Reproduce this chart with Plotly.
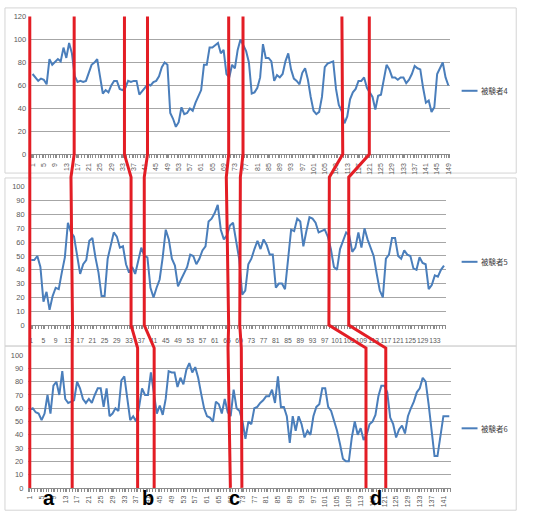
import plotly.graph_objects as go

W, H = 549, 526

# ---------------- data ----------------
subj4 = [70, 67, 64, 66, 65, 61, 83, 78, 81, 83,
         81, 93, 84, 97, 88, 68, 63, 64, 63, 64,
         71, 78, 80, 83, 68, 53, 56, 54, 60, 64,
         64, 57, 56, 58, 64, 63, 64, 64, 52, 55,
         58, 61, 60, 63, 64, 68, 76, 80, 78, 36,
         31, 24, 28, 41, 35, 36, 40, 38, 45, 51,
         56, 78, 78, 93, 93, 95, 97, 88, 91, 70,
         67, 78, 75, 91, 100, 95, 90, 80, 53, 54,
         58, 67, 96, 84, 84, 81, 64, 69, 67, 70,
         81, 88, 74, 66, 64, 61, 71, 75, 65, 50,
         38, 35, 37, 50, 76, 79, 80, 81, 57, 43,
         38, 27, 33, 48, 54, 57, 64, 64, 67, 58,
         54, 50, 39, 51, 52, 64, 78, 74, 67, 67,
         65, 67, 67, 62, 65, 70, 77, 75, 74, 58,
         45, 47, 37, 41, 70, 75, 80, 67, 60]

subj5 = [47, 47, 50, 42, 17, 24, 11, 21, 27, 26,
         38, 49, 74, 67, 64, 50, 37, 44, 47, 61,
         63, 49, 38, 21, 21, 48, 57, 67, 64, 56,
         57, 44, 38, 42, 37, 47, 56, 50, 49, 27,
         20, 27, 33, 49, 69, 62, 48, 43, 28, 33,
         38, 42, 51, 50, 44, 48, 54, 57, 75, 77,
         81, 87, 69, 62, 65, 72, 74, 62, 48, 22,
         25, 44, 48, 55, 61, 55, 62, 58, 51, 51,
         27, 30, 30, 26, 49, 69, 68, 77, 75, 57,
         68, 78, 77, 74, 67, 68, 69, 64, 55, 42,
         40, 55, 61, 67, 65, 53, 56, 67, 56, 70,
         62, 56, 50, 37, 25, 20, 48, 51, 63, 63,
         50, 48, 54, 51, 50, 41, 40, 49, 45, 44,
         26, 29, 36, 35, 40, 43]

subj6 = [59, 60, 57, 56, 51, 56, 70, 56, 77, 80,
         70, 88, 67, 64, 65, 66, 80, 75, 67, 64,
         67, 64, 70, 75, 75, 61, 75, 54, 56, 60,
         58, 81, 84, 69, 51, 54, 50, 61, 75, 70,
         70, 87, 72, 56, 62, 55, 67, 88, 87, 87,
         76, 83, 78, 89, 94, 87, 91, 83, 71, 60,
         54, 53, 50, 65, 63, 56, 67, 57, 54, 74,
         60, 58, 50, 37, 50, 48, 60, 61, 64, 66,
         69, 69, 74, 64, 84, 61, 61, 54, 34, 54,
         43, 54, 48, 38, 43, 40, 54, 61, 63, 75,
         75, 61, 58, 51, 43, 33, 22, 20, 20, 38,
         50, 40, 45, 36, 40, 48, 50, 55, 69, 77,
         77, 72, 53, 48, 38, 44, 47, 41, 54, 60,
         65, 72, 75, 83, 80, 63, 43, 24, 24, 38,
         54, 54, 54]

series = [subj4, subj5, subj6]
names = ["被験者4", "被験者5", "被験者6"]
y_max = [120, 100, 100]
y_step = [20, 10, 10]
x_label_step = 4

# hand-drawn interval boundaries: category position at (top, bottom) of each panel
marks = [
    [(0.0, 0.0), (0.53, 0.53), (1.0, 1.0)],
    [(15.8, 15.8), (14.0, 14.5), (15.35, 15.35)],
    [(33.7, 33.7), (33.65, 33.65), (37.5, 37.5)],
    [(41.9, 41.9), (37.97, 37.97), (43.1, 43.1)],
    [(70.8, 70.8), (64.8, 65.57), (68.1, 68.9)],
    [(75.9, 75.9), (69.4, 69.2), (72.6, 72.8)],
    [(111.1, 111.4), (98.5, 98.36), (114.8, 114.8)],
    [(120.85, 120.85), (104.85, 104.85), (121.5, 121.5)],
]
mark_top_value = [120, 107, 105.4]
mark_labels = ["a", "b", "c", "d"]
mark_label_x = [7.4, 41.0, 70.2, 118.2]

# ---------------- layout geometry (pixels) ----------------
L = [29.4, 27.9, 26.5]
R = [451.07, 446.78, 452.07]
T = [12.8, 186.0, 357.3]
B = [153.0, 326.7, 492.3]
x_tick_angle = [-90, 0, -90]
x_label_standoff = [2, 6, 1]
legend_y = [88.3, 262.3, 431.7]
frames = [(3, 4, 518, 172), (3, 177, 518, 348), (3, 348, 518, 515)]

BLUE = "#4a7ebb"
RED = "#e31d25"
GRID = "#a6a6a6"
AXIS = "#8c8c8c"
TXT = "#595959"
FONT = "Liberation Sans, Noto Sans CJK JP"

fig = go.Figure()
layout = dict(width=W, height=H, margin=dict(l=0, r=0, t=0, b=0), autosize=False,
              paper_bgcolor="white", plot_bgcolor="white", showlegend=False,
              font=dict(family=FONT, color=TXT))
shapes, annotations = [], []

def pxx(k, xc):
    n = len(series[k])
    return L[k] + (xc - 0.5) / n * (R[k] - L[k])

def pxy(k, v):
    return B[k] - v / y_max[k] * (B[k] - T[k])

for k, ys in enumerate(series):
    n = len(ys)
    sx = "" if k == 0 else str(k + 1)
    fig.add_trace(go.Scatter(x=list(range(1, n + 1)), y=ys, mode="lines", name=names[k],
                             line=dict(color=BLUE, width=2), xaxis="x" + sx, yaxis="y" + sx))
    layout["xaxis" + sx] = dict(
        domain=[L[k] / W, R[k] / W], anchor="y" + sx, range=[0.5, n + 0.5],
        tickmode="linear", tick0=1, dtick=x_label_step, tickangle=x_tick_angle[k],
        ticks="outside", ticklen=3, tickcolor=AXIS, showline=True, linecolor=AXIS,
        linewidth=1, showgrid=False, zeroline=False, ticklabelstandoff=x_label_standoff[k],
        tickfont=dict(size=7 if k != 1 else 6.8, color=TXT, family=FONT),
        minor=dict(ticks="outside", ticklen=3, tickcolor=AXIS, dtick=1, tick0=0.5, showgrid=False))
    layout["yaxis" + sx] = dict(
        domain=[1 - B[k] / H, 1 - T[k] / H], anchor="x" + sx, range=[0, y_max[k]],
        tickmode="linear", tick0=0, dtick=y_step[k], showgrid=True, gridcolor=GRID,
        gridwidth=1, zeroline=False, showline=False, ticks="", ticklabelstandoff=4,
        tickfont=dict(size=7.5, color=TXT, family=FONT))
    # chart-area frame
    x0, y0, x1, y1 = frames[k]
    shapes.append(dict(type="rect", xref="paper", yref="paper", x0=x0 / W, x1=x1 / W,
                       y0=1 - y1 / H, y1=1 - y0 / H, line=dict(color="#d4d4d4", width=1),
                       layer="below"))
    # legend
    ly = 1 - legend_y[k] / H
    shapes.append(dict(type="line", xref="paper", yref="paper", x0=463 / W, x1=479 / W,
                       y0=ly, y1=ly, line=dict(color=BLUE, width=2)))
    annotations.append(dict(text=names[k], xref="paper", yref="paper", x=481 / W, y=ly,
                            xanchor="left", yanchor="middle", showarrow=False,
                            font=dict(size=7.5, color="#404040", family="Noto Sans CJK JP")))

# red interval boundaries
for m in marks:
    pts = []
    for k, (xt, xb) in enumerate(m):
        pts.append((pxx(k, xt), pxy(k, mark_top_value[k])))
        pts.append((pxx(k, xb), pxy(k, 0)))
    path = "M " + " L ".join(f"{x / W:.5f},{1 - y / H:.5f}" for x, y in pts)
    shapes.append(dict(type="path", xref="paper", yref="paper", path=path,
                       line=dict(color=RED, width=3), layer="above"))

for lab, xc in zip(mark_labels, mark_label_x):
    annotations.append(dict(text="<b>" + lab + "</b>", xref="paper", yref="paper",
                            x=pxx(2, xc) / W, y=1 - 503 / H, xanchor="center", yanchor="middle",
                            showarrow=False,
                            font=dict(size=20, color="black", family="Liberation Sans")))

layout["shapes"] = shapes
layout["annotations"] = annotations
fig.update_layout(**layout)
fig.write_html("out.html")
